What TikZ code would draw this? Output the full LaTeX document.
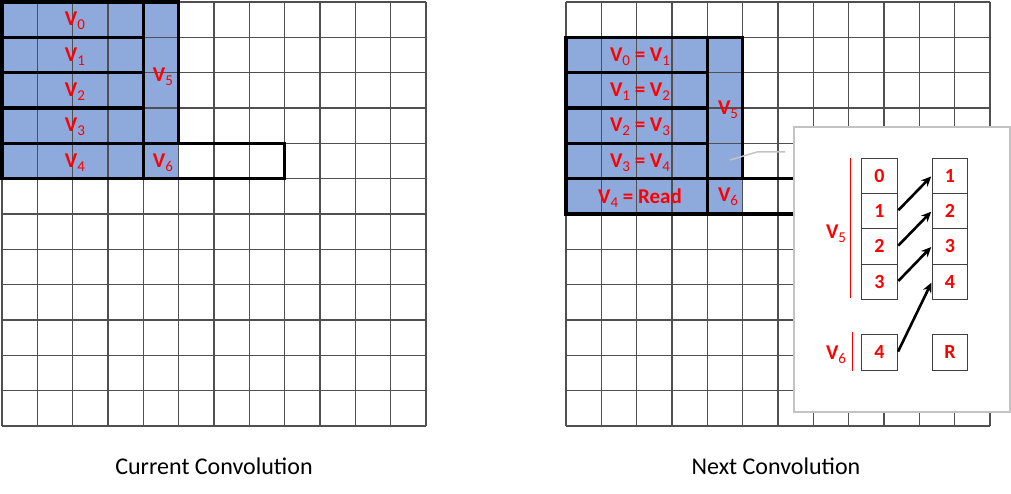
\documentclass[tikz,border=0pt]{standalone}
\usepackage{fontspec}
\setmainfont{Carlito}
\usetikzlibrary{arrows.meta}
\definecolor{cellblue}{RGB}{142,169,219}
\definecolor{gridc}{RGB}{80,80,80}
\definecolor{popgray}{RGB}{195,195,195}
\definecolor{labred}{RGB}{255,0,0}
\newcommand\Vs[1]{V\raisebox{-4pt}{\fontsize{15}{16}\selectfont\mdseries #1}}
\tikzset{
  gridline/.style={draw=gridc, line width=1.1pt},
  bluefill/.style={fill=cellblue, draw=none},
  outline/.style={draw=black, line width=3.5pt},
  vlabel/.style={text=labred, font=\fontsize{21}{22}\selectfont\bfseries, inner sep=0pt},
  popcell/.style={draw=black!75, line width=0.9pt, minimum width=35.3pt, minimum height=35.3pt, inner sep=0pt, text=labred, font=\fontsize{20}{22}\selectfont\bfseries},
  shiftarrow/.style={draw=black, line width=2.6pt, -{Stealth[length=10pt,width=9pt]}, shorten <=1pt, shorten >=1pt},
  bracketline/.style={draw=labred, line width=1pt},
  captiontext/.style={font=\fontsize{24}{28}\selectfont, text=black, inner sep=0pt},
  calloutline/.style={draw=popgray, line width=1.5pt},
  popbox/.style={draw=popgray, line width=2pt, fill=white}
}
\begin{document}
\begin{tikzpicture}[x=1pt,y=-1pt]
\useasboundingbox (0,0) rectangle (1011,494);
\def\c{35.333}
% ---------------- Left grid ----------------
\fill[bluefill] (2,2) rectangle (178.67,178.67);
\foreach \i in {0,...,12} {
  \draw[gridline] (2+\i*\c,2) -- (2+\i*\c,426);
  \draw[gridline] (2,2+\i*\c) -- (426,2+\i*\c);
}
\foreach \i in {0,...,4} {
  \draw[outline] (2,2+\i*\c) rectangle (143.33,2+\i*\c+\c);
}
\draw[outline] (143.33,2) rectangle (178.67,143.33);
\draw[outline] (143.33,143.33) rectangle (284.67,178.67);
\node[vlabel] (lv0) at (75,21) {\Vs{0}};
\node[vlabel] (lv1) at (75,56.5) {\Vs{1}};
\node[vlabel] (lv2) at (75,91.8) {\Vs{2}};
\node[vlabel] (lv3) at (75,127.2) {\Vs{3}};
\node[vlabel] (lv4) at (75,162.5) {\Vs{4}};
\node[vlabel] (lv5) at (163,77) {\Vs{5}};
\node[vlabel] (lv6) at (163,162.5) {\Vs{6}};
\node[captiontext] (capl) at (214,466) {Current Convolution};
% ---------------- Right grid ----------------
\fill[bluefill] (566,37.33) rectangle (742.67,214);
\foreach \i in {0,...,12} {
  \draw[gridline] (566+\i*\c,2) -- (566+\i*\c,426);
  \draw[gridline] (566,2+\i*\c) -- (990,2+\i*\c);
}
\foreach \i in {1,...,5} {
  \draw[outline] (566,2+\i*\c) rectangle (707.33,2+\i*\c+\c);
}
\draw[outline] (707.33,37.33) rectangle (742.67,178.67);
\draw[outline] (707.33,178.67) rectangle (848.67,214);
\node[vlabel] (rv0) at (640,56.5) {\Vs{0} = \Vs{1}};
\node[vlabel] (rv1) at (640,91.8) {\Vs{1} = \Vs{2}};
\node[vlabel] (rv2) at (640,127.2) {\Vs{2} = \Vs{3}};
\node[vlabel] (rv3) at (640,162.5) {\Vs{3} = \Vs{4}};
\node[vlabel] (rv4) at (640,197.8) {\Vs{4} = Read};
\node[vlabel] (rv5) at (728,110) {\Vs{5}};
\node[vlabel] (rv6) at (728,196.5) {\Vs{6}};
\node[captiontext] (capr) at (776,466) {Next Convolution};
% ---------------- Popup ----------------
\coordinate (cA) at (730,160);
\coordinate (cB) at (757,152);
\coordinate (cC) at (785,152);
\draw[calloutline] (cA) -- (cB) -- (cC);
\draw[popbox] (794,127) rectangle (1010,412);
\node[popcell] (a0) at (879.5,175.7) {0};
\node[popcell] (a1) at (879.5,211) {1};
\node[popcell] (a2) at (879.5,246.3) {2};
\node[popcell] (a3) at (879.5,281.7) {3};
\node[popcell] (a4) at (879.5,352.5) {4};
\node[popcell] (b0) at (950,175.7) {1};
\node[popcell] (b1) at (950,211) {2};
\node[popcell] (b2) at (950,246.3) {3};
\node[popcell] (b3) at (950,281.7) {4};
\node[popcell] (b4) at (950,352.5) {R};
\draw[shiftarrow] (a1.east) -- (b0.west);
\draw[shiftarrow] (a2.east) -- (b1.west);
\draw[shiftarrow] (a3.east) -- (b2.west);
\draw[shiftarrow] (a4.east) -- (b3.west);
\coordinate (br5t) at (850,158);
\coordinate (br5b) at (850,298);
\coordinate (br6t) at (852,332);
\coordinate (br6b) at (852,371);
\draw[bracketline] (br5t) -- (br5b);
\draw[bracketline] (br6t) -- (br6b);
\node[vlabel] (pv5) at (836,234) {\Vs{5}};
\node[vlabel] (pv6) at (836,355) {\Vs{6}};
\end{tikzpicture}
\end{document}
